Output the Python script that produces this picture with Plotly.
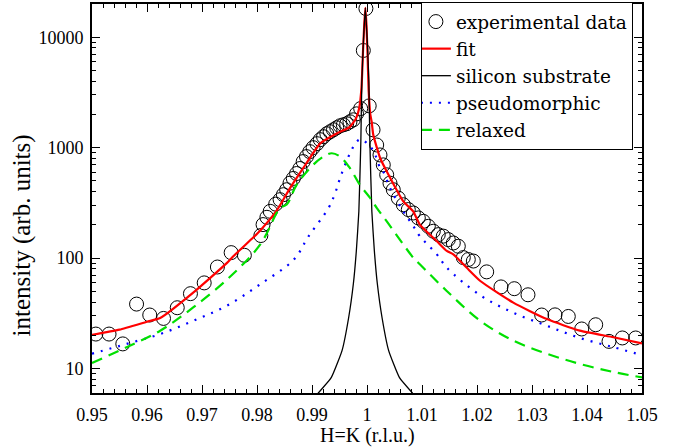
import plotly.graph_objects as go

# ---- data ----
h_exp = [0.9507, 0.9531, 0.9556, 0.9581, 0.9605, 0.9630, 0.9655, 0.9679, 0.9704, 0.9728,
         0.9753, 0.9777, 0.9807, 0.9811, 0.9818, 0.9824, 0.9834, 0.9842, 0.9848, 0.9854,
         0.9860, 0.9866, 0.9872, 0.9878, 0.9884, 0.9890, 0.9896, 0.9902, 0.9909, 0.9915,
         0.9921, 0.9927, 0.9933, 0.9939, 0.9945, 0.9951, 0.9957, 0.9963, 0.9969, 0.9975,
         0.9981, 0.99885, 0.99933, 0.9998, 1.0004, 1.0011, 1.00176, 1.00236, 1.00296, 1.00358,
         1.00418, 1.00478, 1.00569, 1.00660, 1.00751, 1.00842, 1.00933, 1.01024, 1.01115, 1.01206,
         1.01296, 1.01387, 1.01478, 1.01569, 1.01660, 1.01751, 1.01842, 1.01933, 1.02176, 1.02436,
         1.02678, 1.02927, 1.03176, 1.03418, 1.03660, 1.03904, 1.04158, 1.04400, 1.04642, 1.04885]
i_exp = [20.5, 20.5, 16.7, 38.3, 30.5, 28.4, 35.5, 47.6, 59.6, 83,
         112, 106, 160, 201, 234, 265, 308, 338, 375, 416,
         477, 526, 583, 647, 748, 830, 920, 1000, 1087, 1181,
         1257, 1337, 1394, 1453, 1514, 1578, 1611, 1645, 1715, 1787,
         2024, 2260, 7590, 18200, 2390, 1450, 1057, 859, 698, 568,
         477, 416, 349, 304, 275, 256, 231, 215, 194, 175,
         163, 158, 147, 137, 128, 101, 97, 94, 75, 54.8,
         52.8, 46.5, 30.5, 30.6, 29.6, 22.8, 24.9, 17.6, 18.9, 18.9]

h_fit = [0.9500, 0.9550, 0.9600, 0.9624, 0.9684, 0.9745, 0.9757, 0.9794, 0.9806, 0.9836,
         0.9860, 0.9884, 0.9915, 0.9945, 0.9969, 0.9980, 0.9986, 0.9990, 0.9993, 0.9995,
         0.9997, 0.9999, 1.0001, 1.0003, 1.0006, 1.00085, 1.00115, 1.0024, 1.0036, 1.0066,
         1.0084, 1.0096, 1.0127, 1.0145, 1.0157, 1.0181, 1.0206, 1.0266, 1.0327, 1.0387,
         1.0448, 1.0500]
i_fit = [20.2, 22.5, 26.5, 28.6, 48.6, 90, 104, 155, 178, 270,
         430, 652, 1094, 1345, 1545, 1840, 2300, 3500, 8000, 13000,
         18500, 13000, 7000, 3300, 2000, 1715, 1300, 802, 608, 326,
         265, 201, 142, 116, 108, 82, 62, 39.5, 28, 22,
         19.2, 16.9]

h_si = [0.9911, 0.99352, 0.99546, 0.99666, 0.99752, 0.99806, 0.99852, 0.99888, 0.99906, 0.99934,
        0.9997, 1.00006, 1.00034, 1.00052, 1.00088, 1.00134, 1.00188, 1.00274, 1.00394, 1.00588,
        1.0083]
i_si = [5.96, 8.3, 14.5, 28.8, 58.5, 116, 265, 1132, 3936, 9000,
        18400, 9000, 3936, 1132, 265, 116, 58.5, 28.8, 14.5, 8.3,
        5.96]

h_pseudo = [0.9500, 0.9563, 0.9624, 0.9684, 0.9745, 0.9806, 0.9867, 0.9894, 0.9930, 0.9942,
            0.9951, 0.9960, 0.9972, 0.9981, 0.9990, 1.0003, 1.0012, 1.0024, 1.0030, 1.0042,
            1.0066, 1.0084, 1.0096, 1.0127, 1.0145, 1.0206, 1.0266, 1.0327, 1.0387, 1.0448,
            1.0500]
i_pseudo = [13.6, 16.7, 20.5, 27, 37, 58, 97, 158, 284, 387,
            529, 698, 953, 1132, 1190, 1057, 930, 652, 600, 430,
            265, 195, 158, 108, 82, 46, 32, 24.4, 18.9, 15.6,
            13.2]

h_relax = [0.9500, 0.9563, 0.9624, 0.9684, 0.9750, 0.9806, 0.9842, 0.9854, 0.9872, 0.9902,
           0.9921, 0.9936, 0.9951, 0.9969, 0.9987, 1.0006, 1.0018, 1.0036, 1.0066, 1.0084,
           1.0096, 1.0145, 1.0206, 1.0266, 1.0327, 1.0387, 1.0448, 1.0500]
i_relax = [11.2, 15.6, 22, 35.7, 67, 133, 284, 305, 461, 698,
           830, 890, 830, 652, 461, 349, 284, 215, 133, 101,
           88, 50.4, 27, 17.9, 13.6, 11.0, 9.3, 8.3]

x_tickvals = [0.95, 0.96, 0.97, 0.98, 0.99, 1.0, 1.01, 1.02, 1.03, 1.04, 1.05]
x_ticktext = ["0.95", "0.96", "0.97", "0.98", "0.99", "1", "1.01", "1.02", "1.03", "1.04", "1.05"]
y_tickvals = [10, 100, 1000, 10000]
y_ticktext = ["10", "100", "1000", "10000"]
y_minor = [6, 7, 8, 9, 20, 30, 40, 50, 60, 70, 80, 90, 200, 300, 400, 500, 600, 700, 800, 900,
           2000, 3000, 4000, 5000, 6000, 7000, 8000, 9000]

FONT = "'Liberation Serif', Tinos, 'Times New Roman', Times, serif"
LEGEND_FONT = "'DejaVu Serif', 'Liberation Serif', serif"

fig = go.Figure()
fig.add_trace(go.Scatter(x=h_exp, y=i_exp, mode="markers", name="experimental data",
                         marker=dict(symbol="circle-open", size=14, color="black",
                                     line=dict(width=1, color="black"))))
fig.add_trace(go.Scatter(x=h_fit, y=i_fit, mode="lines", name="fit",
                         line=dict(color="#ff0000", width=2.2, shape="spline", smoothing=0.5)))
fig.add_trace(go.Scatter(x=h_si, y=i_si, mode="lines", name="silicon substrate",
                         line=dict(color="black", width=1.3, shape="spline", smoothing=0.4)))
fig.add_trace(go.Scatter(x=h_pseudo, y=i_pseudo, mode="lines", name="pseudomorphic",
                         line=dict(color="#0000ff", width=2.2, dash="2px,7px", shape="spline")))
fig.add_trace(go.Scatter(x=h_relax, y=i_relax, mode="lines", name="relaxed",
                         line=dict(color="#00e000", width=2.2, dash="11px,7px", shape="spline")))

fig.update_layout(
    width=682, height=448,
    margin=dict(l=92, r=40, t=2, b=55),
    paper_bgcolor="white", plot_bgcolor="white",
    font=dict(family=FONT, color="black", size=18),
    showlegend=True,
    legend=dict(x=0.598, y=1.005, xanchor="left", yanchor="top",
                bordercolor="black", borderwidth=1, bgcolor="white",
                font=dict(family=LEGEND_FONT, size=18.5), tracegroupgap=0, itemwidth=30,
                indentation=-6),
    xaxis=dict(range=[0.95, 1.05], tickvals=x_tickvals, ticktext=x_ticktext,
               ticks="inside", ticklen=8, tickwidth=1.2, tickcolor="black",
               showline=True, linewidth=2, linecolor="black", mirror="ticks",
               showgrid=False, zeroline=False, ticklabelstandoff=4,
               minor=dict(dtick=0.002, ticks="inside", ticklen=4, tickcolor="black", showgrid=False),
               tickfont=dict(family=FONT, size=18)),
    yaxis=dict(type="log", range=[0.778, 4.301], tickvals=y_tickvals, ticktext=y_ticktext,
               ticks="inside", ticklen=8, tickwidth=1.2, tickcolor="black",
               showline=True, linewidth=2, linecolor="black", mirror="ticks",
               showgrid=False, zeroline=False, ticklabelstandoff=3,
               minor=dict(tickvals=y_minor, ticks="inside", ticklen=4, tickcolor="black", showgrid=False),
               tickfont=dict(family=FONT, size=18)),
    annotations=[
        dict(text="H=K (r.l.u.)", xref="paper", yref="paper", x=0.5, y=-0.110,
             xanchor="center", yanchor="middle", showarrow=False,
             font=dict(family=FONT, size=20, color="black")),
        dict(text="intensity (arb. units)", xref="paper", yref="paper", x=-0.1273, y=0.405,
             xanchor="center", yanchor="middle", showarrow=False, textangle=-90,
             font=dict(family=FONT, size=25, color="black")),
    ],
)

fig.write_html("out.html", config={"displayModeBar": False},
               post_script="document.body.style.margin='0';")
